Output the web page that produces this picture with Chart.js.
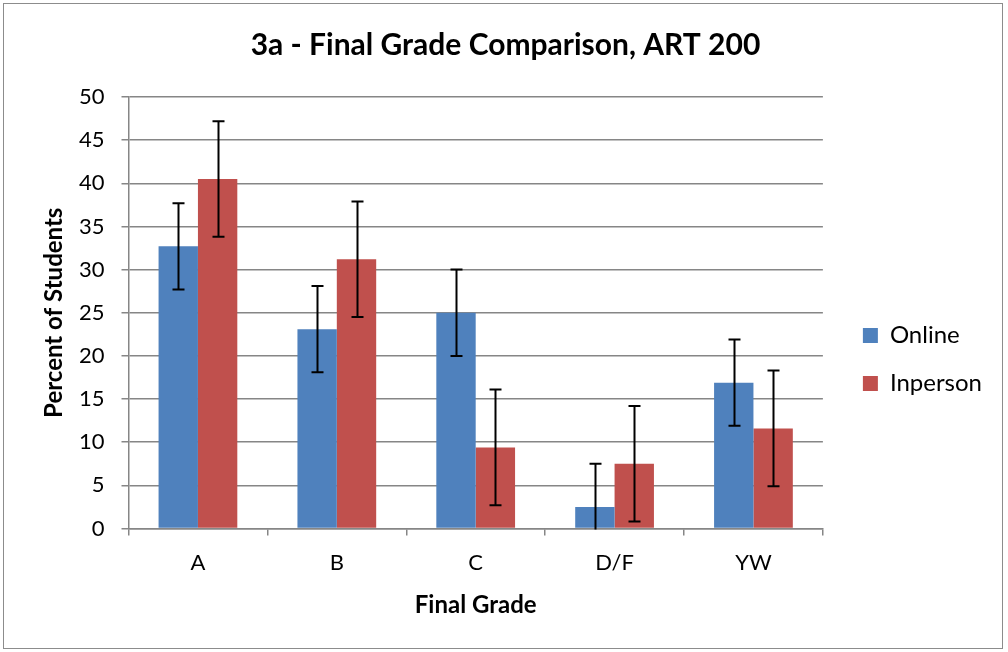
<!DOCTYPE html>
<html>
<head>
  <meta charset="UTF-8">
  <title>3a - Final Grade Comparison, ART 200</title>
  <style>
    body { margin: 0; background: #fff; }
    .frame {
      position: absolute; left: 3px; top: 3px;
      width: 998px; height: 644px;
      border: 1.5px solid #8c8c8c;
    }
  </style>
</head>
<body>
  <div class="frame">
    <canvas id="gradeChart" width="998" height="644"></canvas>
  </div>

  <script src="https://cdn.jsdelivr.net/npm/chart.js@4.4.0/dist/chart.umd.min.js"></script>
  <script>
    // data
    const grades = ['A', 'B', 'C', 'D/F', 'YW'];
    const online = [32.7, 23.1, 25.0, 2.5, 16.9];
    const inperson = [40.5, 31.2, 9.4, 7.5, 11.6];
    const onlineErr = [5.0, 5.0, 5.0, 5.0, 5.0];
    const inpersonErr = [6.7, 6.7, 6.7, 6.7, 6.7];

    const FONT = 'Lato, "Open Sans", sans-serif';

    // draws the error bars on top of the bars, clipped to the plot area
    const errorBars = {
      id: 'errorBars',
      afterDatasetsDraw(chart) {
        const { ctx, chartArea, scales } = chart;
        const y = scales.y;
        ctx.save();
        ctx.beginPath();
        ctx.rect(chartArea.left, chartArea.top, chartArea.right - chartArea.left, chartArea.bottom - chartArea.top + 1);
        ctx.clip();
        ctx.strokeStyle = '#000';
        ctx.lineWidth = 2;
        chart.data.datasets.forEach((ds, i) => {
          const meta = chart.getDatasetMeta(i);
          meta.data.forEach((bar, j) => {
            const v = ds.data[j];
            const e = ds.errors[j];
            const yHi = y.getPixelForValue(v + e);
            const yLo = y.getPixelForValue(v - e);
            const x = Math.round(bar.x) + 0.5;
            ctx.beginPath();
            ctx.moveTo(x, yHi);
            ctx.lineTo(x, yLo);
            ctx.moveTo(x - 6, yHi);
            ctx.lineTo(x + 6, yHi);
            ctx.moveTo(x - 6, yLo);
            ctx.lineTo(x + 6, yLo);
            ctx.stroke();
          });
        });
        ctx.restore();
      }
    };

    const ctx = document.getElementById('gradeChart').getContext('2d');
    new Chart(ctx, {
      type: 'bar',
      data: {
        labels: grades,
        datasets: [
          {
            label: 'Online',
            data: online,
            errors: onlineErr,
            backgroundColor: '#4F81BD'
          },
          {
            label: 'Inperson',
            data: inperson,
            errors: inpersonErr,
            backgroundColor: '#C0504D'
          }
        ]
      },
      options: {
        responsive: false,
        animation: false,
        events: [],
        layout: { padding: { left: 15, right: 10, top: 10, bottom: 28 } },
        datasets: {
          bar: { categoryPercentage: 0.567, barPercentage: 1.0 }
        },
        scales: {
          x: {
            grid: {
              drawOnChartArea: false,
              color: '#868686',
              tickLength: 7,
              lineWidth: 1.5
            },
            border: { color: '#868686', width: 1.5 },
            ticks: { color: '#000', font: { family: FONT, size: 22 }, padding: 14 },
            title: {
              display: true,
              text: 'Final Grade',
              color: '#000',
              font: { family: FONT, size: 24, weight: 'bold' },
              padding: { top: 0, bottom: 0 }
            },
            afterFit(scale) { scale.height = 91.5; }
          },
          y: {
            min: 0,
            max: 50,
            ticks: { stepSize: 5, color: '#000', font: { family: FONT, size: 22 }, padding: 17 },
            grid: { color: '#868686', lineWidth: 1.5, tickLength: 7 },
            border: { color: '#868686', width: 1.5 },
            title: {
              display: true,
              text: 'Percent of Students',
              color: '#000',
              font: { family: FONT, size: 24, weight: 'bold' },
              padding: { top: 21, bottom: 0 }
            },
            afterFit(scale) { scale.width = 109.5; }
          },
          // empty axis, only keeps a gap between the plot and the legend
          gap: {
            type: 'linear',
            position: 'right',
            display: true,
            grid: { display: false },
            border: { display: false },
            ticks: { display: false },
            afterFit(scale) { scale.width = 16; }
          }
        },
        plugins: {
          title: {
            display: true,
            text: '3a - Final Grade Comparison, ART 200',
            color: '#000',
            font: { family: FONT, size: 30, weight: 'bold' },
            padding: { top: 13, bottom: 34 }
          },
          legend: {
            position: 'right',
            title: {
              display: true,
              text: ' ',
              font: { size: 10 },
              padding: { top: 0, bottom: 73 }
            },
            labels: {
              boxWidth: 15,
              boxHeight: 15,
              padding: 24,
              color: '#000',
              font: { family: FONT, size: 24 }
            }
          },
          tooltip: { enabled: false }
        }
      },
      plugins: [errorBars]
    });
  </script>
</body>
</html>
